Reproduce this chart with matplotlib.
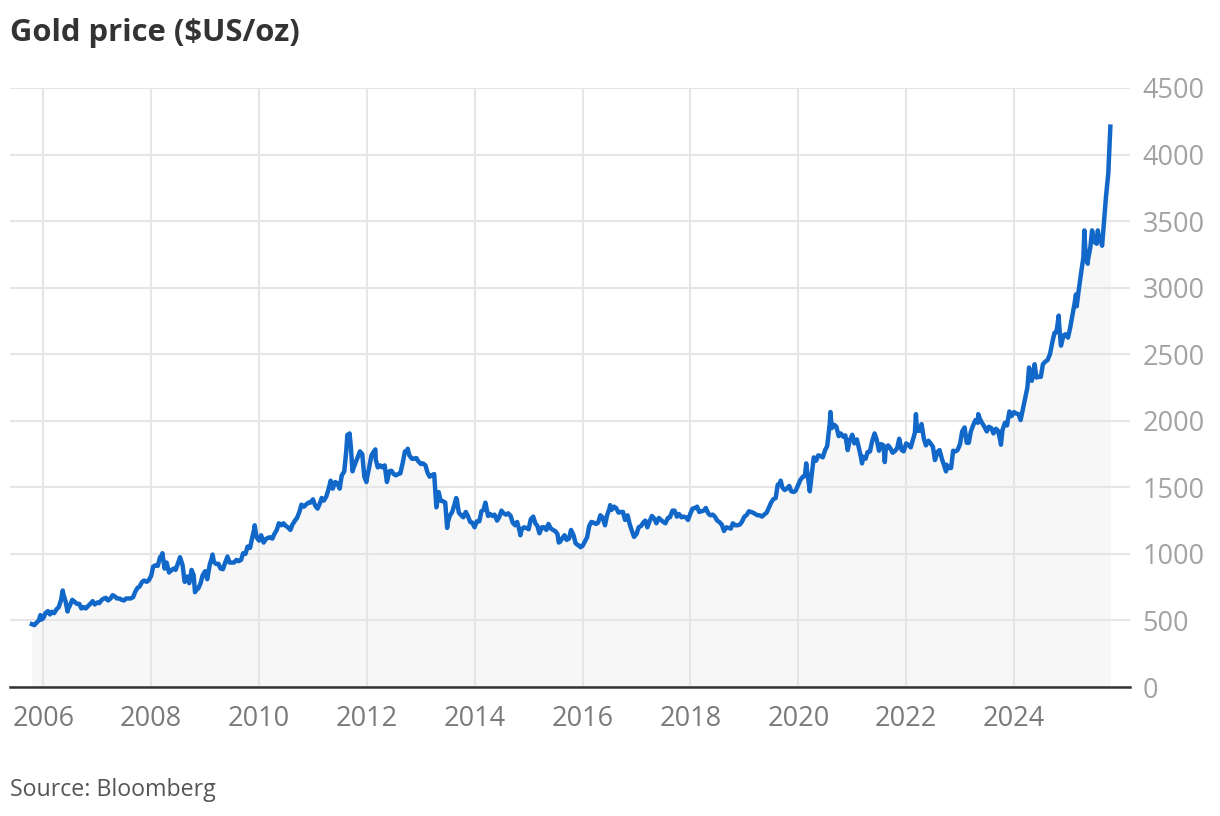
import matplotlib
matplotlib.use('Agg')
import matplotlib.pyplot as plt
import pandas as pd

# semi-monthly gold price readings (1st and 15th), $US/oz
p2005 = [472, 465, 482, 500, 505]  # from Oct 15
p2006 = [517, 555, 570, 545, 565, 555, 585, 600, 655, 705, 640, 580,
         615, 655, 640, 625, 625, 590, 600, 590, 610, 625, 645, 620]
p2007 = [635, 630, 655, 665, 670, 650, 665, 690, 680, 665, 665, 655,
         650, 665, 665, 665, 675, 715, 745, 755, 790, 800, 790, 800]
p2008 = [835, 905, 915, 910, 975, 990, 890, 935, 860, 875, 890, 880,
         930, 975, 915, 790, 830, 780, 880, 840, 730, 740, 780, 840]
p2009 = [870, 810, 920, 970, 940, 925, 925, 890, 885, 930, 980, 935,
         935, 935, 955, 945, 955, 1005, 1000, 1055, 1045, 1120, 1195, 1125]
p2010 = [1100, 1140, 1085, 1110, 1120, 1125, 1115, 1150, 1180, 1230, 1215, 1230,
         1210, 1200, 1180, 1220, 1250, 1270, 1315, 1370, 1355, 1370, 1385, 1385]
p2011 = [1410, 1365, 1340, 1375, 1420, 1400, 1430, 1480, 1550, 1490, 1540, 1530,
         1490, 1590, 1620, 1780, 1830, 1800, 1640, 1680, 1730, 1770, 1750, 1580]
p2012 = [1565, 1640, 1740, 1765, 1710, 1650, 1665, 1650, 1665, 1545, 1620, 1625,
         1600, 1590, 1600, 1605, 1690, 1770, 1775, 1740, 1715, 1715, 1720, 1695]
p2013 = [1675, 1680, 1665, 1610, 1580, 1590, 1600, 1360, 1465, 1400, 1395, 1385,
         1230, 1285, 1315, 1365, 1410, 1310, 1290, 1275, 1315, 1285, 1240, 1235]
p2014 = [1205, 1245, 1245, 1320, 1330, 1380, 1285, 1300, 1285, 1295, 1250, 1275,
         1325, 1305, 1295, 1305, 1285, 1235, 1215, 1240, 1170, 1185, 1200, 1195]
p2015 = [1185, 1260, 1280, 1230, 1210, 1155, 1200, 1200, 1180, 1225, 1190, 1180,
         1170, 1150, 1090, 1115, 1140, 1105, 1115, 1180, 1140, 1080, 1065, 1060]
p2016 = [1060, 1090, 1125, 1210, 1240, 1235, 1225, 1235, 1290, 1275, 1215, 1290,
         1340, 1330, 1355, 1345, 1310, 1315, 1315, 1255, 1290, 1225, 1170, 1130]
p2017 = [1150, 1200, 1210, 1235, 1250, 1200, 1250, 1285, 1265, 1230, 1270, 1255,
         1240, 1230, 1270, 1275, 1325, 1325, 1280, 1300, 1275, 1280, 1275, 1255]
p2018 = [1305, 1340, 1345, 1355, 1315, 1320, 1325, 1345, 1305, 1290, 1295, 1280,
         1250, 1240, 1220, 1175, 1200, 1195, 1190, 1230, 1215, 1215, 1220, 1240]
p2019 = [1280, 1290, 1320, 1315, 1310, 1300, 1290, 1290, 1280, 1295, 1310, 1345,
         1385, 1410, 1420, 1520, 1530, 1500, 1480, 1490, 1510, 1470, 1465, 1475]
p2020 = [1520, 1555, 1580, 1585, 1620, 1510, 1590, 1725, 1700, 1740, 1735, 1725,
         1780, 1810, 1975, 1945, 1970, 1955, 1885, 1905, 1880, 1890, 1780, 1855]
p2021 = [1895, 1830, 1860, 1795, 1725, 1730, 1715, 1765, 1770, 1845, 1905, 1860,
         1775, 1825, 1815, 1780, 1815, 1795, 1760, 1770, 1795, 1865, 1780, 1770]
p2022 = [1830, 1820, 1800, 1855, 1910, 1925, 1925, 1975, 1865, 1815, 1850, 1830,
         1805, 1705, 1765, 1780, 1710, 1665, 1670, 1645, 1645, 1775, 1770, 1780]
p2023 = [1825, 1920, 1950, 1835, 1835, 1920, 1970, 2005, 1985, 2015, 1980, 1955,
         1920, 1955, 1945, 1905, 1940, 1925, 1850, 1930, 1985, 1965, 2070, 2035]
p2024 = [2065, 2055, 2050, 2005, 2085, 2160, 2250, 2385, 2300, 2390, 2325, 2330,
         2330, 2425, 2445, 2455, 2500, 2580, 2660, 2665, 2740, 2565, 2640, 2650]
p2025 = [2625, 2695, 2800, 2885, 2860, 2985, 3120, 3225, 3240, 3200,
         3300, 3420, 3340, 3330, 3360, 3340, 3480, 3680, 3860, 4210]  # to Oct 15

# intra-month highs and lows seen on the chart
peak_dates = ['2005-12-12', '2006-05-12', '2006-06-14', '2008-03-17', '2008-10-24',
              '2009-02-20', '2009-12-02', '2011-08-22', '2011-09-06', '2011-09-26',
              '2011-12-29', '2012-02-28', '2012-05-16', '2012-10-04', '2013-04-16',
              '2013-06-28', '2013-08-28', '2013-12-31', '2014-03-14', '2014-11-06',
              '2015-07-24', '2015-12-17', '2016-07-06', '2016-12-15', '2018-08-16',
              '2019-09-04', '2020-02-24', '2020-03-19', '2020-08-06', '2021-03-08',
              '2021-08-09', '2022-03-08', '2022-09-28', '2023-05-04', '2023-10-05',
              '2024-04-12', '2024-05-20', '2024-10-30', '2024-11-14', '2025-02-24',
              '2025-04-22', '2025-05-15', '2025-06-13', '2025-07-22', '2025-08-20',
              '2025-10-08']
peak_prices = [540, 725, 567, 1005, 712,
               995, 1215, 1895, 1905, 1620,
               1540, 1785, 1540, 1790, 1350,
               1195, 1420, 1200, 1385, 1140,
               1085, 1050, 1366, 1128, 1172,
               1550, 1680, 1470, 2066, 1680,
               1690, 2050, 1620, 2050, 1820,
               2400, 2425, 2790, 2565, 2950,
               3430, 3180, 3430, 3430, 3315,
               4040]

x_ticks = [str(y) for y in range(2006, 2025, 2)]
y_ticks = list(range(0, 4501, 500))

prices = (p2005 + p2006 + p2007 + p2008 + p2009 + p2010 + p2011 + p2012 + p2013
          + p2014 + p2015 + p2016 + p2017 + p2018 + p2019 + p2020 + p2021
          + p2022 + p2023 + p2024 + p2025)
dates = pd.date_range('2005-10-15', periods=len(prices), freq='SMS')
df = pd.concat([pd.Series(prices, index=dates),
                pd.Series(peak_prices, index=pd.to_datetime(peak_dates))]).sort_index()

plt.rcParams['font.family'] = ['Open Sans', 'DejaVu Sans']

fig = plt.figure(figsize=(12.2, 8.16), dpi=100)
ax = fig.add_axes([10 / 1220, 129 / 816, 1120 / 1220, 599 / 816])

ax.fill_between(df.index, 0, df.values, color='#f7f7f7', lw=0)
ax.plot(df.index, df.values, color='#1268c9', lw=3.2, solid_joinstyle='round')

ax.set_ylim(0, 4500)
ax.set_xlim(pd.Timestamp('2005-05-20'), pd.Timestamp('2026-02-25'))
ax.set_yticks(y_ticks)
ax.set_xticks(pd.to_datetime([t + '-01-01' for t in x_ticks]))
ax.set_xticklabels(x_ticks)
ax.yaxis.tick_right()
ax.grid(True, color='#e6e6e6', lw=1.5)
ax.tick_params(axis='both', length=0)
ax.tick_params(axis='y', labelsize=19.5, labelcolor='#a3a3a3', pad=9)
ax.tick_params(axis='x', labelsize=19.5, labelcolor='#7a7a7a', pad=13)
for s in ['top', 'left', 'right']:
    ax.spines[s].set_visible(False)
ax.spines['bottom'].set_color('#333333')
ax.spines['bottom'].set_linewidth(1.8)
ax.spines['bottom'].set_zorder(3)

fig.text(10 / 1220, 1 - 33 / 816, 'Gold price ($US/oz)', fontsize=22.3, fontweight='bold',
         color='#333333', va='center', ha='left')
fig.text(10 / 1220, 1 - 790 / 816, 'Source: Bloomberg', fontsize=16.7,
         color='#555555', va='center', ha='left')

fig.savefig('out.png', dpi=100)
